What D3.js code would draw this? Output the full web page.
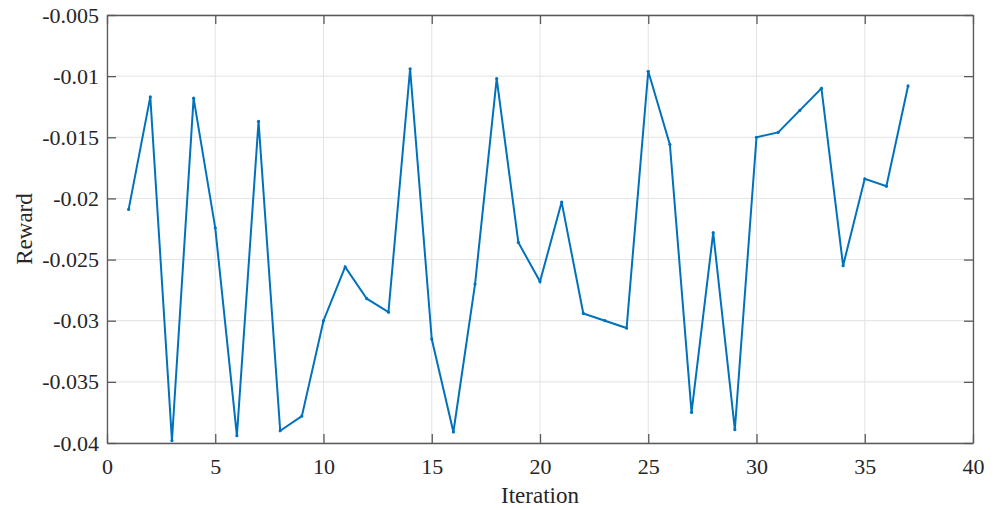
<!DOCTYPE html>
<html>
<head>
<meta charset="utf-8">
<script src="https://cdnjs.cloudflare.com/ajax/libs/d3/7.8.5/d3.min.js"></script>
<style>
    body { margin: 0; background: #fff; }
</style>
</head>
<body>
<div id="chart"></div>
<script>
// reward per iteration
var iterations = d3.range(1, 38);
var rewards = [
    -0.0209, -0.0117, -0.0398, -0.0118, -0.0224, -0.0394, -0.0137, -0.0390, -0.0378, -0.0300,
    -0.0256, -0.0282, -0.0293, -0.0094, -0.0315, -0.0391, -0.0270, -0.0102, -0.0236, -0.0268,
    -0.0203, -0.0294, -0.0300, -0.0306, -0.0096, -0.0156, -0.0375, -0.0228, -0.0389, -0.0150,
    -0.0146, -0.0128, -0.0110, -0.0255, -0.0184, -0.0190, -0.0108
];
var xTicks = [0, 5, 10, 15, 20, 25, 30, 35, 40];
var yTicks = [-0.04, -0.035, -0.03, -0.025, -0.02, -0.015, -0.01, -0.005];

var FONT = "'Liberation Serif', 'Times New Roman', serif";
var width = 997, height = 510;
var margin = {top: 15, right: 24, bottom: 67, left: 107};
var w = width - margin.left - margin.right,
    h = height - margin.top - margin.bottom;

var svg = d3.select("#chart").append("svg")
    .attr("width", width)
    .attr("height", height);

var g = svg.append("g")
    .attr("transform", "translate(" + margin.left + "," + margin.top + ")");

var x = d3.scaleLinear().domain([0, 40]).range([0, w]);
var y = d3.scaleLinear().domain([-0.04, -0.005]).range([h, 0]);

// grid
g.selectAll(".xgrid").data(xTicks).enter().append("line")
    .attr("x1", function(d) { return x(d); })
    .attr("x2", function(d) { return x(d); })
    .attr("y1", 0).attr("y2", h)
    .attr("stroke", "#e3e3e3").attr("stroke-width", 1);
g.selectAll(".ygrid").data(yTicks).enter().append("line")
    .attr("y1", function(d) { return y(d); })
    .attr("y2", function(d) { return y(d); })
    .attr("x1", 0).attr("x2", w)
    .attr("stroke", "#e3e3e3").attr("stroke-width", 1);

// axes with inward ticks
var fmtY = function(d) { return String(+d.toFixed(3)); };

var xAxis = g.append("g")
    .attr("transform", "translate(0," + h + ")")
    .call(d3.axisBottom(x).tickValues(xTicks).tickSizeInner(-9).tickSizeOuter(0).tickPadding(15));
var xTop = g.append("g")
    .call(d3.axisTop(x).tickValues(xTicks).tickSizeInner(-9).tickSizeOuter(0).tickFormat(""));
var yAxis = g.append("g")
    .call(d3.axisLeft(y).tickValues(yTicks).tickSizeInner(-9).tickSizeOuter(0).tickPadding(8).tickFormat(fmtY));
var yRight = g.append("g")
    .attr("transform", "translate(" + w + ",0)")
    .call(d3.axisRight(y).tickValues(yTicks).tickSizeInner(-9).tickSizeOuter(0).tickFormat(""));

[xAxis, xTop, yAxis, yRight].forEach(function(a) {
    a.attr("font-family", FONT).attr("font-size", 22);
    a.select(".domain").attr("stroke", "#5a5a5a").attr("stroke-width", 1.3);
    a.selectAll(".tick line").attr("stroke", "#5a5a5a").attr("stroke-width", 1.3);
    a.selectAll(".tick text").attr("fill", "#262626");
});

// line
var line = d3.line()
    .x(function(d, i) { return x(iterations[i]); })
    .y(function(d) { return y(d); });

g.append("path")
    .datum(rewards)
    .attr("fill", "none")
    .attr("stroke", "#0072BD")
    .attr("stroke-width", 2)
    .attr("d", line);

g.selectAll(".pt").data(rewards).enter().append("circle")
    .attr("cx", function(d, i) { return x(iterations[i]); })
    .attr("cy", function(d) { return y(d); })
    .attr("r", 1.6)
    .attr("fill", "#0072BD");

// labels
svg.append("text")
    .attr("x", margin.left + w / 2)
    .attr("y", 503)
    .attr("text-anchor", "middle")
    .attr("font-family", FONT)
    .attr("font-size", 23)
    .attr("fill", "#262626")
    .text("Iteration");

svg.append("text")
    .attr("transform", "translate(32," + (margin.top + h / 2) + ") rotate(-90)")
    .attr("text-anchor", "middle")
    .attr("font-family", FONT)
    .attr("font-size", 23)
    .attr("fill", "#262626")
    .text("Reward");
</script>
</body>
</html>
